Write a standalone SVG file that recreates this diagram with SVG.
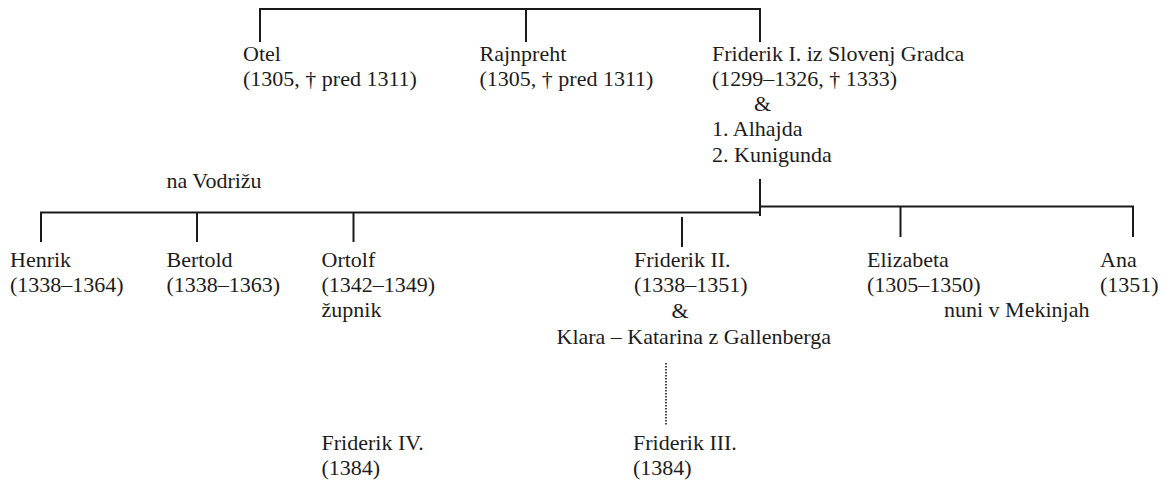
<svg xmlns="http://www.w3.org/2000/svg" width="1167" height="480" viewBox="0 0 1167 480">
<style>
text{font-family:"Liberation Serif","Times New Roman",serif;font-size:22px;fill:#1c1c1c}
.l{stroke:#1a1a1a;stroke-width:2;fill:none}
.d{stroke:#1a1a1a;stroke-width:1.6;stroke-dasharray:1.6 1.4;fill:none}
</style>
<rect width="1167" height="480" fill="#fff"/>
<g id="connectors">
<path class="l" d="M260 42V9H760V42M526 9V42"/>
<path class="l" d="M760 179V216M41 242V212.5H760M760 206.5H1133V237M197 212.5V242M353.5 212.5V242M682 217V247M900.5 206.5V237"/>
<path class="d" d="M666 363V425"/>
</g>
<g id="otel"><text x="243" y="61">Otel</text><text x="243" y="86">(1305, † pred 1311)</text></g>
<g id="rajnpreht"><text x="479.5" y="61">Rajnpreht</text><text x="479.5" y="86">(1305, † pred 1311)</text></g>
<g id="friderik1"><text x="712" y="61">Friderik I. iz Slovenj Gradca</text><text x="712" y="86">(1299–1326, † 1333)</text><text x="754" y="111">&amp;</text><text x="712" y="136">1. Alhajda</text><text x="712" y="162">2. Kunigunda</text></g>
<g id="vodrizu"><text x="166.5" y="188">na Vodrižu</text></g>
<g id="henrik"><text x="10" y="267">Henrik</text><text x="10" y="292">(1338–1364)</text></g>
<g id="bertold"><text x="166.5" y="267">Bertold</text><text x="166.5" y="292">(1338–1363)</text></g>
<g id="ortolf"><text x="321.5" y="267">Ortolf</text><text x="321.5" y="292">(1342–1349)</text><text x="321.5" y="317">župnik</text></g>
<g id="friderik2"><text x="634" y="267">Friderik II.</text><text x="634" y="292">(1338–1351)</text><text x="671.5" y="318">&amp;</text><text x="556.5" y="344">Klara – Katarina z Gallenberga</text></g>
<g id="elizabeta"><text x="867" y="267">Elizabeta</text><text x="867" y="292">(1305–1350)</text><text x="944" y="317">nuni v Mekinjah</text></g>
<g id="ana"><text x="1100" y="267">Ana</text><text x="1100" y="292">(1351)</text></g>
<g id="friderik4"><text x="321.5" y="450">Friderik IV.</text><text x="321.5" y="475">(1384)</text></g>
<g id="friderik3"><text x="633" y="450">Friderik III.</text><text x="633" y="475">(1384)</text></g>
</svg>
